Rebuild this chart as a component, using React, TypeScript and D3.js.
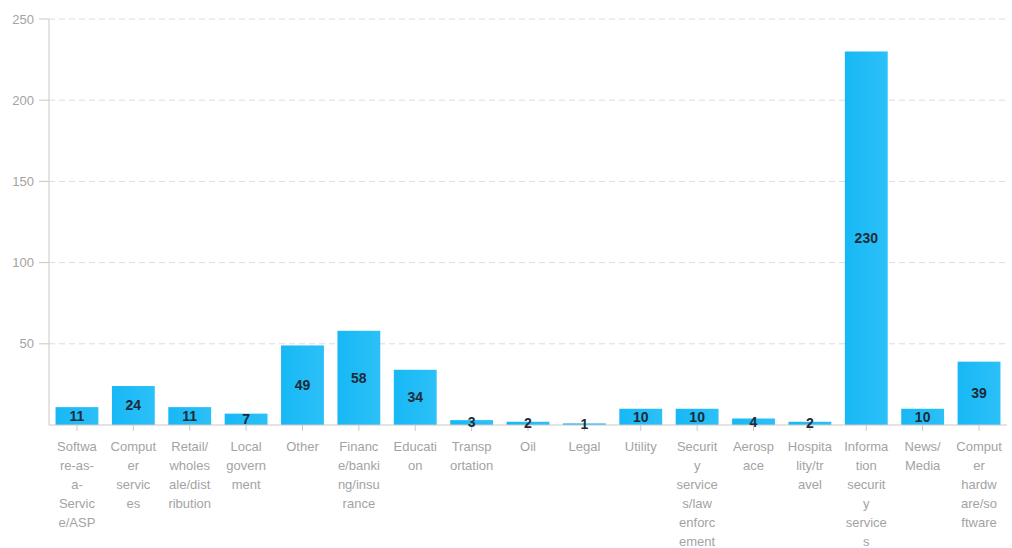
import React from "react";
import * as d3 from "d3";

const categories: string[] = [
  "Softwa\nre-as-\na-\nServic\ne/ASP",
  "Comput\ner\nservic\nes",
  "Retail/\nwholes\nale/dist\nribution",
  "Local\ngovern\nment",
  "Other",
  "Financ\ne/banki\nng/insu\nrance",
  "Educati\non",
  "Transp\nortation",
  "Oil",
  "Legal",
  "Utility",
  "Securit\ny\nservice\ns/law\nenforc\nement",
  "Aerosp\nace",
  "Hospita\nlity/tr\navel",
  "Informa\ntion\nsecurit\ny\nservice\ns",
  "News/\nMedia",
  "Comput\ner\nhardw\nare/so\nftware",
];

const values: number[] = [11, 24, 11, 7, 49, 58, 34, 3, 2, 1, 10, 10, 4, 2, 230, 10, 39];

const yTicks: number[] = [50, 100, 150, 200, 250];

const W = 1012;
const H = 548;
const left = 49;
const right = 1007;
const top = 19;
const bottom = 425;
const FONT = "'Liberation Sans', Arial, sans-serif";

export default function App() {
  const x = d3
    .scaleBand<number>()
    .domain(d3.range(categories.length))
    .range([left, right])
    .paddingInner(0.24)
    .paddingOuter(0.116);
  const y = d3.scaleLinear().domain([0, 250]).range([bottom, top]);

  return (
    <svg
      width={W}
      height={H}
      style={{ position: "absolute", left: 0, top: 0, display: "block", background: "#fff" }}
      fontFamily={FONT}
    >
      <defs>
        <linearGradient id="barGrad" x1="0" x2="1" y1="0" y2="0">
          <stop offset="0" stopColor="#17b8f6" />
          <stop offset="1" stopColor="#2cc0f7" />
        </linearGradient>
      </defs>
      {yTicks.map((t) => (
        <line
          key={"g" + t}
          x1={left}
          x2={right}
          y1={y(t)}
          y2={y(t)}
          stroke="#dcdcdc"
          strokeDasharray="6,4"
          strokeWidth={1}
        />
      ))}
      {yTicks.map((t) => (
        <g key={"yt" + t}>
          <line x1={left - 10} x2={left} y1={y(t)} y2={y(t)} stroke="#c8c8c8" />
          <text
            x={left - 15}
            y={y(t)}
            dy="0.35em"
            textAnchor="end"
            fontSize={13}
            fill="#a3a3a3"
          >
            {t}
          </text>
        </g>
      ))}
      {values.map((v, i) => (
        <rect
          key={"b" + i}
          x={x(i)!}
          y={y(v)}
          width={x.bandwidth()}
          height={bottom - y(v)}
          fill="url(#barGrad)"
        />
      ))}
      <line x1={left} x2={left} y1={top} y2={bottom} stroke="#c8c8c8" />
      <line x1={left} x2={right} y1={bottom} y2={bottom} stroke="#c8c8c8" />
      {categories.map((c, i) => {
        const cx = x(i)! + x.bandwidth() / 2;
        return (
          <g key={"xt" + i}>
            <line x1={cx} x2={cx} y1={bottom} y2={bottom + 6} stroke="#c8c8c8" />
            <text textAnchor="middle" fontSize={13} fill="#a3a3a3">
              {c.split("\n").map((ln, j) => (
                <tspan key={j} x={cx} y={450.5 + j * 19}>
                  {ln}
                </tspan>
              ))}
            </text>
          </g>
        );
      })}
      {values.map((v, i) => (
        <text
          key={"v" + i}
          x={x(i)! + x.bandwidth() / 2}
          y={(y(v) + bottom) / 2}
          dy="0.35em"
          textAnchor="middle"
          fontSize={14}
          fontWeight="bold"
          fill="#1e2a36"
        >
          {v}
        </text>
      ))}
    </svg>
  );
}
